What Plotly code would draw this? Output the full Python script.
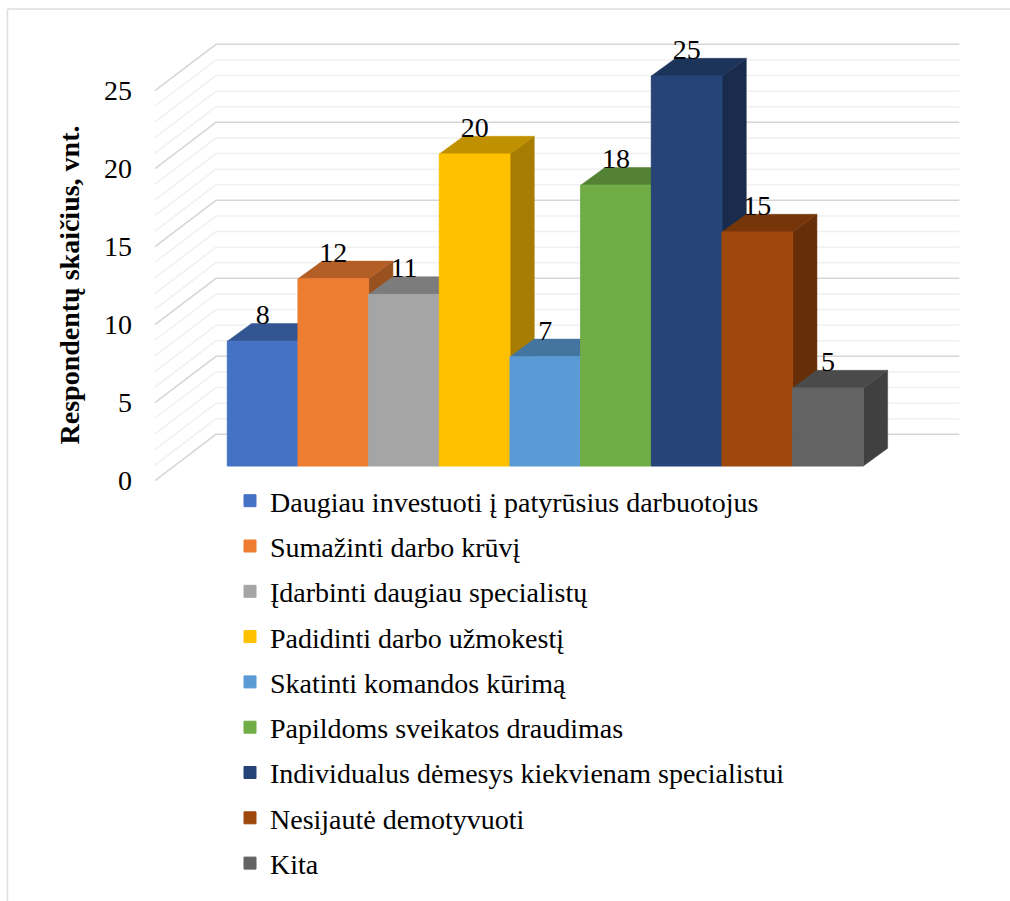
import plotly.graph_objects as go

# Survey answers and respondent counts
categories = [
    "Daugiau investuoti į patyrūsius darbuotojus",
    "Sumažinti darbo krūvį",
    "Įdarbinti daugiau specialistų",
    "Padidinti darbo užmokestį",
    "Skatinti komandos kūrimą",
    "Papildoms sveikatos draudimas",
    "Individualus dėmesys kiekvienam specialistui",
    "Nesijautė demotyvuoti",
    "Kita",
]
counts = [8, 12, 11, 20, 7, 18, 25, 15, 5]
front_colors = ["#4472C4", "#ED7D31", "#A5A5A5", "#FFC000", "#5B9BD5",
                "#70AD47", "#264478", "#9E480E", "#636363"]
tick_values = [0, 5, 10, 15, 20, 25]
grid_values = list(range(0, 26))
axis_title = "Respondentų skaičius, vnt."

# Canvas and scale of the front plane
WIDTH, HEIGHT = 1010, 901
PX_PER_BAR = 70.67
PX_PER_UNIT = 15.6
BAR0_LEFT = 227.3
FLOOR_Y = 466.0

x_range = [-BAR0_LEFT / PX_PER_BAR - 0.5, (WIDTH - BAR0_LEFT) / PX_PER_BAR - 0.5]
y_range = [(FLOOR_Y - HEIGHT) / PX_PER_UNIT, FLOOR_Y / PX_PER_UNIT]

# Oblique projection: how far the back of a bar shifts, in axis units
BAR_DEPTH_X = 24.3 / PX_PER_BAR
BAR_DEPTH_Y = 17.7 / PX_PER_UNIT
LABEL_DROP = 0.48

# Wall geometry, in axis units
WALL_FRONT_X, WALL_BACK_X, WALL_RIGHT_X = -1.523, -0.66, 9.858
WALL_FRONT_DY, WALL_BACK_DY = -0.94, 2.03


def shade(hex_color, factor):
    r, g, b = (int(hex_color[i:i + 2], 16) for i in (1, 3, 5))
    return f"rgb({r * factor:.0f},{g * factor:.0f},{b * factor:.0f})"


def wall_line(values):
    xs, ys = [], []
    for v in values:
        xs += [WALL_FRONT_X, WALL_BACK_X, WALL_RIGHT_X, None]
        ys += [v + WALL_FRONT_DY, v + WALL_BACK_DY, v + WALL_BACK_DY, None]
    return xs, ys


fig = go.Figure()

# Side and back walls: light lines for single units, stronger for every fifth
minor = [v for v in grid_values if v % 5]
major = [v for v in grid_values if v % 5 == 0]
for vals, color, lw in ((minor, "#F0F0F0", 1.5), (major, "#D6D6D6", 1.5)):
    xs, ys = wall_line(vals)
    fig.add_trace(go.Scatter(x=xs, y=ys, mode="lines", showlegend=False, hoverinfo="skip",
                             line=dict(color=color, width=lw)))

# Top and right faces of each bar, painted left to right
for i, (value, color) in enumerate(zip(counts, front_colors)):
    left, right = i - 0.5, i + 0.5
    top_x = [left, left + BAR_DEPTH_X, right + BAR_DEPTH_X, right, left]
    top_y = [value, value + BAR_DEPTH_Y, value + BAR_DEPTH_Y, value, value]
    side_x = [right, right + BAR_DEPTH_X, right + BAR_DEPTH_X, right, right]
    side_y = [0, BAR_DEPTH_Y, value + BAR_DEPTH_Y, value, 0]
    for xs, ys, factor in ((side_x, side_y, 0.65), (top_x, top_y, 0.75)):
        fill = shade(color, factor)
        fig.add_trace(go.Scatter(x=xs, y=ys, mode="lines", fill="toself", fillcolor=fill,
                                 line=dict(color=fill, width=0.5),
                                 showlegend=False, hoverinfo="skip"))

# Front faces live on an overlaid subplot so they cover the neighbouring faces
for i, (name, value, color) in enumerate(zip(categories, counts, front_colors)):
    fig.add_trace(go.Bar(x=[i], y=[value], width=1, name=name, legendgroup=name,
                         marker=dict(color=color, line=dict(color=color, width=1)),
                         xaxis="x2", yaxis="y2", hoverinfo="name+y"))

# Value labels sit just above the back edge of each bar
fig.add_trace(go.Scatter(x=list(range(len(counts))),
                         y=[v + BAR_DEPTH_Y - LABEL_DROP for v in counts],
                         text=[str(v) for v in counts], mode="text", textposition="top center",
                         textfont=dict(family="Liberation Serif", size=28, color="black"),
                         xaxis="x2", yaxis="y2", showlegend=False, hoverinfo="skip"))

# Carrier for the value axis drawn at the front edge of the side wall
fig.add_trace(go.Scatter(x=[0] * len(tick_values), y=tick_values, mode="none",
                         xaxis="x", yaxis="y3", showlegend=False, hoverinfo="skip"))

hidden = dict(visible=False, fixedrange=True)
label_zero_y, label_top_y = 480.0, 90.0

fig.update_layout(
    width=WIDTH, height=HEIGHT,
    margin=dict(l=0, r=0, t=0, b=0, autoexpand=False),
    paper_bgcolor="white", plot_bgcolor="rgba(0,0,0,0)",
    font=dict(family="Liberation Serif", color="black"),
    barmode="overlay",
    xaxis=dict(range=x_range, domain=[0, 1], **hidden),
    yaxis=dict(range=y_range, domain=[0, 1], **hidden),
    xaxis2=dict(range=x_range, overlaying="x", **hidden),
    yaxis2=dict(range=y_range, overlaying="y", **hidden),
    yaxis3=dict(
        range=[0, 25],
        domain=[1 - label_zero_y / HEIGHT, 1 - label_top_y / HEIGHT],
        anchor="free", position=132 / WIDTH,
        tickvals=tick_values, ticks="", showgrid=False, zeroline=False, showline=False,
        tickfont=dict(family="Liberation Serif", size=28, color="black"),
        title=dict(text=axis_title, standoff=15,
                   font=dict(family="Liberation Serif", size=28, color="black", weight=700)),
        fixedrange=True,
    ),
    legend=dict(
        x=230 / WIDTH, y=1 - 476 / HEIGHT, xanchor="left", yanchor="top",
        font=dict(family="Liberation Serif", size=28, color="black"),
        bgcolor="rgba(0,0,0,0)", borderwidth=0,
        tracegroupgap=5.9,
    ),
    showlegend=True,
    # Outer frame, open at the right and bottom edges
    shapes=[
        dict(type="line", xref="paper", yref="paper", x0=7.5 / WIDTH, x1=1,
             y0=1 - 9 / HEIGHT, y1=1 - 9 / HEIGHT, line=dict(color="#DEDEDE", width=1.5), layer="below"),
        dict(type="line", xref="paper", yref="paper", x0=7.5 / WIDTH, x1=7.5 / WIDTH,
             y0=0, y1=1 - 9 / HEIGHT, line=dict(color="#DEDEDE", width=1.5), layer="below"),
    ],
)

fig.write_html("out.html", config=dict(displayModeBar=False))
